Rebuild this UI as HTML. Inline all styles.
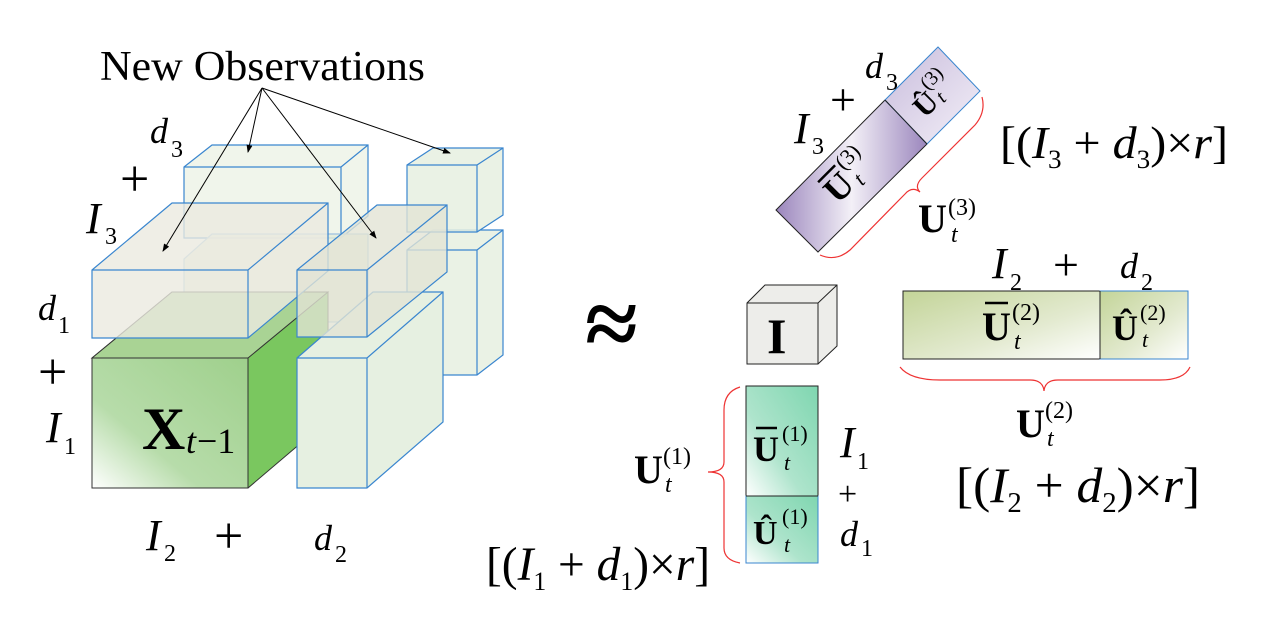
<!DOCTYPE html>
<html><head><meta charset="utf-8"><style>
html,body{margin:0;padding:0;background:#fff;}
svg text{font-family:"Liberation Serif",serif;}
.i{font-style:italic;}
.b{font-weight:bold;}
</style></head><body>
<svg width="1275" height="637" viewBox="0 0 1275 637" xmlns="http://www.w3.org/2000/svg">
<defs>
<linearGradient id="gx" x1="0" y1="1" x2="1" y2="0"><stop offset="0" stop-color="#fff"/><stop offset="0.35" stop-color="#b7dcaa"/><stop offset="1" stop-color="#9fd08c"/></linearGradient>
<linearGradient id="gp" x1="0" y1="0" x2="1" y2="0"><stop offset="0" stop-color="#9b86bd"/><stop offset="0.5" stop-color="#f3f0f7"/><stop offset="1" stop-color="#9b86bd"/></linearGradient>
<linearGradient id="gp2" x1="0" y1="0" x2="1" y2="1"><stop offset="0" stop-color="#c8bcdc"/><stop offset="1" stop-color="#f4f0f8"/></linearGradient>
<linearGradient id="gg" x1="0" y1="0" x2="1" y2="1"><stop offset="0" stop-color="#c3d498"/><stop offset="0.6" stop-color="#e3ead0"/><stop offset="1" stop-color="#fff"/></linearGradient>
<linearGradient id="gt" x1="1" y1="0" x2="0" y2="1"><stop offset="0" stop-color="#7fd6b0"/><stop offset="0.6" stop-color="#aee4cc"/><stop offset="1" stop-color="#fff"/></linearGradient>
<marker id="ar" markerWidth="8" markerHeight="6" refX="7" refY="3" orient="auto"><path d="M0,0 L8,3 L0,6 z" fill="#000"/></marker>
</defs>
<g stroke="#3a86cf" stroke-width="1.2" fill="#e6f0e1" fill-opacity="0.85">
<path d="M407,250 L433,230 L503,230 L503,355 L477,375 L407,375 Z"/>
<path d="M407,250 H477 L503,230 M477,250 V375" fill="none"/>
<path d="M407,165 L433,148 L503,148 L503,215 L477,232 L407,232 Z"/>
<path d="M407,165 H477 L503,148 M477,165 V232" fill="none"/>
<path d="M184,167 L212,145 L368,145 L368,216 L341,238 L184,238 Z" fill="#edf3e8"/>
<path d="M184,167 H341 L368,145 M341,167 V238" fill="none"/>
<path d="M184,259 L212,234 L368,234 L368,300 L341,322 L184,322 Z" fill="#e4ecdc" stroke="#9cc0e0"/>
</g>
<path d="M92,358 L172,292 L328,292 L328,420 L248,488 L92,488 Z" fill="#7ac75f" stroke="#333"/>
<path d="M92,358 L172,292 L328,292 L248,358 Z" fill="#a9d394" stroke="#333"/>
<rect x="92" y="358" width="156" height="130" fill="url(#gx)" stroke="#333"/>
<g stroke="#3a86cf" stroke-width="1.2">
<path d="M92,270 L172,203 L328,203 L328,271 L248,338 L92,338 Z" fill="#ebeae0" fill-opacity="0.8"/>
<path d="M92,270 H248 L328,203 M248,270 V338" fill="none"/>
<path d="M297,358 L373,292 L443,292 L443,422 L367,488 L297,488 Z" fill="#e6f0e1"/>
<path d="M297,358 H367 L443,292 M367,358 V488" fill="none"/>
<path d="M297,270 L377,205 L447,205 L447,272 L367,337 L297,337 Z" fill="#e2e3d4" fill-opacity="0.8"/>
<path d="M297,270 H367 L447,205 M367,270 V337" fill="none"/>
</g>
<text x="142" y="449" font-size="60" class="b">X</text>
<text x="186" y="453" font-size="36" class="i">t</text><text x="197" y="453" font-size="36">−1</text>
<g stroke="#000" stroke-width="1" marker-end="url(#ar)">
<line x1="262" y1="88" x2="248" y2="152"/>
<line x1="262" y1="88" x2="163" y2="251"/>
<line x1="262" y1="88" x2="376" y2="238"/>
<line x1="262" y1="88" x2="450" y2="153"/>
</g>
<text x="100" y="80" font-size="42" textLength="325" lengthAdjust="spacingAndGlyphs">New Observations</text>
<text x="150" y="143" font-size="36" class="i">d</text><text x="171" y="157" font-size="24">3</text>
<text x="120" y="196" font-size="52">+</text>
<text x="86" y="233" font-size="44" class="i">I</text><text x="105" y="244" font-size="24">3</text>
<text x="38" y="320" font-size="36" class="i">d</text><text x="58" y="333" font-size="24">1</text>
<text x="38" y="389" font-size="52">+</text>
<text x="46" y="442" font-size="44" class="i">I</text><text x="64" y="454" font-size="24">1</text>
<text x="146" y="550" font-size="44" class="i">I</text><text x="164" y="561" font-size="24">2</text>
<text x="214" y="553" font-size="52">+</text>
<text x="314" y="550" font-size="36" class="i">d</text><text x="335" y="562" font-size="24">2</text>
<text x="585" y="356" font-size="96" class="b">≈</text>
<path d="M747,303 L765,285 L837,285 L837,346 L818,364 L747,364 Z" fill="#ededea" stroke="#222"/>
<path d="M747,303 H818 L837,285 M818,303 V364" fill="none" stroke="#222"/>
<text x="767" y="353" font-size="50" class="b">I</text>
<path d="M776,210 L818,252 L927,144 L885,100 Z" fill="url(#gp)" stroke="#222"/>
<path d="M885,100 L927,144 L980,91 L938,47 Z" fill="url(#gp2)" stroke="#3a86cf"/>
<line x1="885" y1="100" x2="927" y2="144" stroke="#222"/>
<g transform="translate(845,178) rotate(-45)"><text x="-24" y="14" font-size="36" class="b">U</text><line x1="-22" y1="-16" x2="2" y2="-16" stroke="#000" stroke-width="2.5"/><text x="4" y="-6" font-size="22">(3)</text><text x="6" y="18" font-size="22" class="i">t</text></g>
<g transform="translate(932,95) rotate(-45)"><text x="-22" y="12" font-size="30" class="b">Û</text><text x="0" y="-6" font-size="20">(3)</text><text x="2" y="14" font-size="20" class="i">t</text></g>
<path d="M982,97 Q986,112 975,125 L922,178 Q914,186 920,192 Q912,186 905,194 L850,250 Q836,262 820,255" fill="none" stroke="#e33" stroke-width="1.2"/>
<text x="865" y="78" font-size="36" class="i">d</text><text x="886" y="90" font-size="24">3</text>
<text x="830" y="115" font-size="46">+</text>
<text x="794" y="143" font-size="44" class="i">I</text><text x="812" y="154" font-size="24">3</text>
<text x="918" y="232" font-size="40" class="b">U</text><text x="948" y="215" font-size="24">(3)</text><text x="951" y="242" font-size="24" class="i">t</text>
<text x="1000" y="158" font-size="46" textLength="228" lengthAdjust="spacingAndGlyphs">[(<tspan class="i">I</tspan><tspan font-size="26" dy="10">3</tspan><tspan dy="-10"> + </tspan><tspan class="i">d</tspan><tspan font-size="26" dy="10">3</tspan><tspan dy="-10">)×</tspan><tspan class="i">r</tspan>]</text>
<text x="992" y="278" font-size="44" class="i">I</text><text x="1010" y="290" font-size="24">2</text>
<text x="1053" y="280" font-size="46">+</text>
<text x="1120" y="278" font-size="36" class="i">d</text><text x="1141" y="290" font-size="24">2</text>
<rect x="903" y="291" width="197" height="68" fill="url(#gg)" stroke="#222"/>
<rect x="1100" y="291" width="88" height="68" fill="url(#gg)" stroke="#3a86cf"/>
<line x1="1100" y1="291" x2="1100" y2="359" stroke="#222"/>
<text x="982" y="340" font-size="40" class="b">U</text><line x1="985" y1="303" x2="1008" y2="303" stroke="#000" stroke-width="2.5"/><text x="1012" y="320" font-size="24">(2)</text><text x="1014" y="349" font-size="24" class="i">t</text>
<text x="1112" y="340" font-size="36" class="b">Û</text><text x="1140" y="320" font-size="22">(2)</text><text x="1142" y="347" font-size="22" class="i">t</text>
<path d="M900,367 Q910,380 940,380 L1030,380 Q1043,380 1044,391 Q1045,380 1058,380 L1160,380 Q1184,380 1190,367" fill="none" stroke="#e33" stroke-width="1.2"/>
<text x="1016" y="437" font-size="40" class="b">U</text><text x="1045" y="418" font-size="24">(2)</text><text x="1047" y="446" font-size="24" class="i">t</text>
<text x="956" y="502" font-size="50" textLength="244" lengthAdjust="spacingAndGlyphs">[(<tspan class="i">I</tspan><tspan font-size="28" dy="10">2</tspan><tspan dy="-10"> + </tspan><tspan class="i">d</tspan><tspan font-size="28" dy="10">2</tspan><tspan dy="-10">)×</tspan><tspan class="i">r</tspan>]</text>
<rect x="746" y="386" width="72" height="110" fill="url(#gt)" stroke="#222"/>
<rect x="746" y="496" width="72" height="67" fill="url(#gt)" stroke="#3a86cf"/>
<line x1="746" y1="496" x2="818" y2="496" stroke="#222"/>
<text x="753" y="461" font-size="36" class="b">U</text><line x1="756" y1="428" x2="777" y2="428" stroke="#000" stroke-width="2.5"/><text x="782" y="441" font-size="22">(1)</text><text x="784" y="470" font-size="22" class="i">t</text>
<text x="753" y="544" font-size="34" class="b">Û</text><text x="782" y="524" font-size="22">(1)</text><text x="784" y="552" font-size="22" class="i">t</text>
<path d="M740,387 Q724,392 724,410 L724,462 Q724,472 708,472 Q724,472 724,482 L724,548 Q724,560 740,563" fill="none" stroke="#e33" stroke-width="1.2"/>
<text x="840" y="457" font-size="44" class="i">I</text><text x="857" y="469" font-size="24">1</text>
<text x="838" y="505" font-size="34">+</text>
<text x="840" y="546" font-size="36" class="i">d</text><text x="861" y="556" font-size="24">1</text>
<text x="634" y="483" font-size="40" class="b">U</text><text x="663" y="464" font-size="24">(1)</text><text x="665" y="492" font-size="24" class="i">t</text>
<text x="486" y="580" font-size="48" textLength="224" lengthAdjust="spacingAndGlyphs">[(<tspan class="i">I</tspan><tspan font-size="26" dy="10">1</tspan><tspan dy="-10"> + </tspan><tspan class="i">d</tspan><tspan font-size="26" dy="10">1</tspan><tspan dy="-10">)×</tspan><tspan class="i">r</tspan>]</text>
</svg>
</body></html>
